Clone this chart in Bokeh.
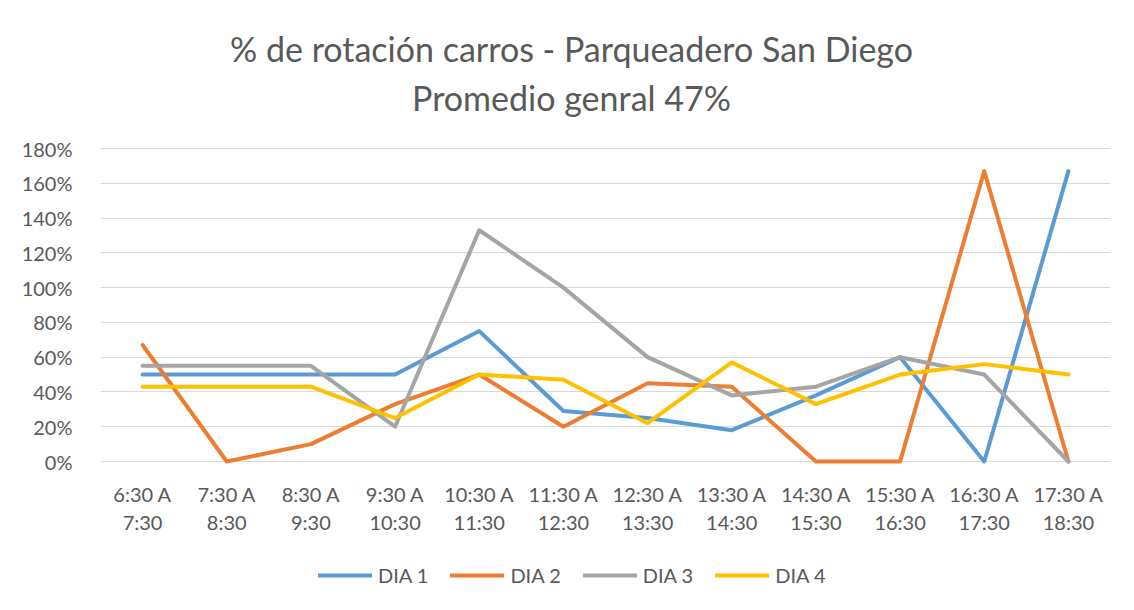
from bokeh.plotting import figure
from bokeh.models import (Range1d, FixedTicker, Legend, LegendItem, Label, LinearAxis)
from bokeh.embed import file_html
from bokeh.resources import INLINE

categories = ["6:30 A\n7:30", "7:30 A\n8:30", "8:30 A\n9:30", "9:30 A\n10:30", "10:30 A\n11:30",
              "11:30 A\n12:30", "12:30 A\n13:30", "13:30 A\n14:30", "14:30 A\n15:30",
              "15:30 A\n16:30", "16:30 A\n17:30", "17:30 A\n18:30"]
dia1 = [50, 50, 50, 50, 75, 29, 25, 18, 38, 60, 0, 167]
dia2 = [67, 0, 10, 33, 50, 20, 45, 43, 0, 0, 167, 0]
dia3 = [55, 55, 55, 20, 133, 100, 60, 38, 43, 60, 50, 0]
dia4 = [43, 43, 43, 25, 50, 47, 22, 57, 33, 50, 56, 50]
series_names = ["DIA 1", "DIA 2", "DIA 3", "DIA 4"]
y_ticks = [0, 20, 40, 60, 80, 100, 120, 140, 160, 180]
title_lines = ["% de rotación carros - Parqueadero San Diego", "Promedio genral 47%"]

colors = ["#5B9BD5", "#ED7D31", "#A5A5A5", "#FFC000"]
FONT = "Lato"
TXT = "#595959"

# layout: plot area 180% at px 148, 0% at px 461 in a 594 px tall canvas
PX_PER_UNIT = (461 - 148) / 180.0
Y_TOP = 180 + 148 / PX_PER_UNIT
Y_BOTTOM = -(594 - 461) / PX_PER_UNIT

p = figure(width=1118, height=594, output_backend="svg", toolbar_location=None,
           x_range=Range1d(-0.5, len(categories) - 0.5), y_range=Range1d(Y_BOTTOM, Y_TOP),
           x_axis_location=None,
           min_border_left=100, min_border_right=8, min_border_top=0, min_border_bottom=0)
p.outline_line_color = None
for g in p.grid:
    if g.dimension == 0:
        g.visible = False
    else:
        g.grid_line_color = "#d9d9d9"
        g.grid_line_width = 1

xs = list(range(len(categories)))
renderers = []
for vals, c in zip([dia1, dia2, dia3, dia4], colors):
    r = p.line(xs, vals, line_color=c, line_width=4, line_join="round", line_cap="round")
    renderers.append(r)

xaxis = LinearAxis(fixed_location=0, ticker=FixedTicker(ticks=xs),
                   major_label_overrides={i: lab for i, lab in enumerate(categories)})
p.add_layout(xaxis, "below")
p.yaxis.ticker = FixedTicker(ticks=y_ticks)
p.yaxis.major_label_overrides = {v: f"{v}%" for v in y_ticks}
for ax in (xaxis, p.yaxis[0]):
    ax.axis_line_color = None
    ax.major_tick_line_color = None
    ax.minor_tick_line_color = None
    ax.major_label_text_font = FONT
    ax.major_label_text_font_size = "20px"
    ax.major_label_text_color = TXT
xaxis.major_label_standoff = 14
p.yaxis.major_label_standoff = 22

legend = Legend(items=[LegendItem(label=n, renderers=[r]) for n, r in zip(series_names, renderers)],
                orientation="horizontal", location=(218, 7),
                label_text_font=FONT, label_text_font_size="20px", label_text_color=TXT,
                glyph_width=54, glyph_height=20, spacing=22, border_line_color=None,
                background_fill_alpha=0, margin=0, padding=0, label_standoff=6)
p.add_layout(legend, "center")

title_x = -0.5 + (571 - 100) / ((1110 - 100) / len(categories))
for text, center_px in zip(title_lines, [48, 97]):
    p.add_layout(Label(x=title_x, y=Y_TOP - center_px / PX_PER_UNIT, text=text,
                       text_align="center", text_baseline="middle", text_font=FONT,
                       text_font_size="34px", text_color=TXT))

open("out.html", "w").write(file_html(p, INLINE))
